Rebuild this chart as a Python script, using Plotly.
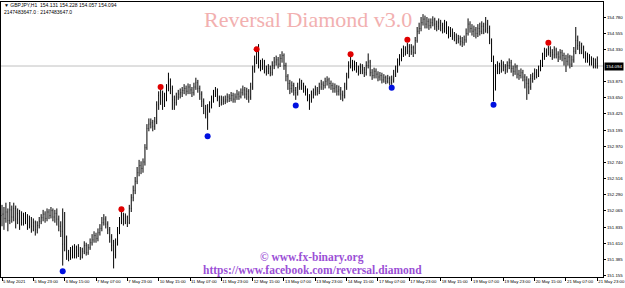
import plotly.graph_objects as go

# ---------------- data (GBPJPY H1) ----------------
time_labels = ["5 May 2021", "5 May 23:00", "6 May 15:00", "7 May 07:00", "7 May 23:00",
               "10 May 15:00", "11 May 07:00", "11 May 23:00", "12 May 15:00", "13 May 07:00",
               "13 May 23:00", "14 May 15:00", "17 May 07:00", "17 May 23:00", "18 May 15:00",
               "19 May 07:00", "19 May 23:00", "20 May 15:00", "21 May 07:00", "21 May 23:00"]
label_bar_index = [0, 16, 32, 48, 64, 80, 96, 112, 128, 144, 160, 176, 192, 208, 224, 240, 256, 272, 288, 304]

price_ticks = [154.780, 154.555, 154.330, 153.875, 153.650, 153.425, 153.195, 152.970,
               152.740, 152.516, 152.290, 152.065, 151.835, 151.610, 151.385, 151.155]
price_tick_text = ["154.780", "154.555", "154.330", "153.875", "153.650", "153.425", "153.195", "152.970",
                   "152.740", "152.516", "152.290", "152.065", "151.835", "151.610", "151.385", "151.155"]
current_price = 154.094

closes = [152.02, 151.96, 152.05, 151.93, 152.08, 151.98, 152.10, 151.95, 152.03, 151.90, 152.00, 151.94, 151.98, 151.88, 151.95, 151.85, 151.90,
          151.80, 151.86, 151.92, 151.97, 152.02, 151.96, 152.05, 152.00, 152.07, 151.98, 152.03,
          151.95, 151.85, 151.78, 151.60, 151.70, 151.45, 151.42,
          151.50, 151.44, 151.55, 151.47, 151.52, 151.42, 151.50, 151.58, 151.48, 151.55,
          151.62, 151.66, 151.72, 151.68, 151.76, 151.82, 151.90, 151.95,
          151.88, 151.80, 151.70, 151.58, 151.45, 151.62,
          151.78, 151.92, 152.00, 151.95, 151.98, 151.90,
          152.10, 152.25, 152.35, 152.48, 152.60, 152.70,
          152.66, 152.75, 152.95, 153.22, 153.28,
          153.30, 153.25, 153.32, 153.55, 153.68, 153.72,
          153.60, 153.65, 153.78, 153.88, 153.78,
          153.62, 153.58, 153.66, 153.70, 153.72, 153.75,
          153.78, 153.74, 153.80, 153.76, 153.72, 153.80, 153.86, 153.78, 153.70,
          153.60, 153.50, 153.42, 153.48,
          153.55, 153.62, 153.70, 153.74, 153.65, 153.58, 153.62, 153.60,
          153.62, 153.66, 153.64, 153.68, 153.63, 153.66, 153.70, 153.67, 153.72, 153.76, 153.70, 153.74, 153.66,
          153.80, 154.05, 154.18, 154.22,
          154.12, 154.08, 154.15, 154.05, 154.02, 154.06, 154.00,
          154.10, 154.15, 154.18, 154.12, 154.20, 154.24, 154.10,
          153.95, 153.85, 153.78, 153.82, 153.75, 153.72,
          153.80, 153.86, 153.82, 153.78, 153.74, 153.66, 153.62, 153.70,
          153.72, 153.76, 153.74, 153.80, 153.84, 153.82, 153.88, 153.90, 153.85,
          153.82, 153.78, 153.80, 153.74, 153.76, 153.70, 153.68, 153.80,
          153.95, 154.10, 154.15,
          154.08, 154.12, 154.05, 154.02, 154.08, 154.04, 154.00, 154.10, 154.15,
          154.00, 153.96, 154.02, 153.98, 153.94, 153.96, 153.90, 153.93, 153.88, 153.92, 153.86, 153.90,
          153.98, 154.05, 154.15, 154.20, 154.28, 154.32, 154.30, 154.36,
          154.30, 154.35, 154.28, 154.45, 154.58, 154.62,
          154.70, 154.75, 154.68, 154.72, 154.66, 154.70, 154.74, 154.68, 154.65, 154.70, 154.66, 154.62, 154.68,
          154.60, 154.55, 154.58, 154.52, 154.50, 154.46, 154.48, 154.44, 154.42, 154.46,
          154.55, 154.68, 154.62, 154.58,
          154.60, 154.55, 154.62, 154.58, 154.65, 154.60, 154.68, 154.62,
          154.45, 154.20, 154.05,
          154.02, 154.10, 154.05, 154.12, 154.08, 154.04, 154.10, 154.14, 154.06, 154.02, 154.08,
          153.98, 153.96, 154.00, 153.94, 153.90, 153.85, 153.80, 153.92,
          153.95, 154.00, 153.98, 154.05, 154.12, 154.22, 154.30, 154.28, 154.34,
          154.28, 154.25, 154.32, 154.26, 154.22, 154.28, 154.24, 154.20, 154.16, 154.22, 154.12, 154.18,
          154.30, 154.45, 154.38, 154.32, 154.35,
          154.25, 154.20, 154.22, 154.15, 154.18, 154.12, 154.131, 154.094]

opens = [152.00, 152.02, 151.96, 152.05, 151.93, 152.08, 151.98, 152.10, 151.95, 152.03, 151.90, 152.00, 151.94, 151.98, 151.88, 151.95, 151.85,
         151.90, 151.80, 151.86, 151.92, 151.97, 152.02, 151.96, 152.05, 152.00, 152.07, 151.98,
         152.03, 151.95, 151.85, 151.78, 151.60, 151.70, 151.45,
         151.42, 151.50, 151.44, 151.55, 151.47, 151.52, 151.42, 151.50, 151.58, 151.48,
         151.55, 151.62, 151.66, 151.72, 151.68, 151.76, 151.82, 151.90,
         151.95, 151.88, 151.80, 151.70, 151.58, 151.45,
         151.62, 151.78, 151.92, 152.00, 151.95, 151.98,
         151.90, 152.10, 152.25, 152.35, 152.48, 152.60,
         152.70, 152.66, 152.75, 152.95, 153.22,
         153.28, 153.30, 153.25, 153.32, 153.55, 153.68,
         153.72, 153.60, 153.65, 153.78, 153.88,
         153.78, 153.62, 153.58, 153.66, 153.70, 153.72,
         153.75, 153.78, 153.74, 153.80, 153.76, 153.72, 153.80, 153.86, 153.78,
         153.70, 153.60, 153.50, 153.42,
         153.48, 153.55, 153.62, 153.70, 153.74, 153.65, 153.58, 153.62,
         153.60, 153.62, 153.66, 153.64, 153.68, 153.63, 153.66, 153.70, 153.67, 153.72, 153.76, 153.70, 153.74,
         153.66, 153.80, 154.05, 154.18,
         154.22, 154.12, 154.08, 154.15, 154.05, 154.02, 154.06,
         154.00, 154.10, 154.15, 154.18, 154.12, 154.20, 154.24,
         154.10, 153.95, 153.85, 153.78, 153.82, 153.75,
         153.72, 153.80, 153.86, 153.82, 153.78, 153.74, 153.66, 153.62,
         153.70, 153.72, 153.76, 153.74, 153.80, 153.84, 153.82, 153.88, 153.90,
         153.85, 153.82, 153.78, 153.80, 153.74, 153.76, 153.70, 153.68,
         153.80, 153.95, 154.10,
         154.15, 154.08, 154.12, 154.05, 154.02, 154.08, 154.04, 154.00, 154.10,
         154.15, 154.00, 153.96, 154.02, 153.98, 153.94, 153.96, 153.90, 153.93, 153.88, 153.92, 153.86,
         153.90, 153.98, 154.05, 154.15, 154.20, 154.28, 154.32, 154.30,
         154.36, 154.30, 154.35, 154.28, 154.45, 154.58,
         154.62, 154.70, 154.75, 154.68, 154.72, 154.66, 154.70, 154.74, 154.68, 154.65, 154.70, 154.66, 154.62,
         154.68, 154.60, 154.55, 154.58, 154.52, 154.50, 154.46, 154.48, 154.44, 154.42,
         154.46, 154.55, 154.68, 154.62,
         154.58, 154.60, 154.55, 154.62, 154.58, 154.65, 154.60, 154.68,
         154.62, 154.45, 154.20,
         154.05, 154.02, 154.10, 154.05, 154.12, 154.08, 154.04, 154.10, 154.14, 154.06, 154.02,
         154.08, 153.98, 153.96, 154.00, 153.94, 153.90, 153.85, 153.80,
         153.92, 153.95, 154.00, 153.98, 154.05, 154.12, 154.22, 154.30, 154.28,
         154.34, 154.28, 154.25, 154.32, 154.26, 154.22, 154.28, 154.24, 154.20, 154.16, 154.22, 154.12,
         154.18, 154.30, 154.45, 154.38, 154.32,
         154.35, 154.25, 154.20, 154.22, 154.15, 154.18, 154.12, 154.131]

highs = [152.15, 152.12, 152.18, 152.10, 152.19, 152.14, 152.18, 152.14, 152.10, 152.08, 152.06, 152.04, 152.05, 152.02, 152.00, 151.98, 151.96,
         151.93, 151.92, 151.98, 152.02, 152.08, 152.06, 152.10, 152.09, 152.12, 152.10, 152.08,
         152.10, 152.00, 151.92, 152.10, 152.05, 151.72, 151.52,
         151.56, 151.58, 151.60, 151.58, 151.60, 151.56, 151.55, 151.64, 151.62, 151.60,
         151.68, 151.74, 151.78, 151.76, 151.82, 151.88, 151.98, 152.02,
         151.99, 151.92, 151.84, 151.74, 151.66, 151.68,
         151.84, 151.98, 152.06, 152.04, 152.03, 152.00,
         152.15, 152.30, 152.42, 152.54, 152.68, 152.78,
         152.76, 152.80, 153.00, 153.28, 153.36,
         153.36, 153.34, 153.38, 153.60, 153.74, 153.77,
         153.75, 153.72, 153.84, 154.00, 153.92,
         153.82, 153.68, 153.72, 153.76, 153.78, 153.80,
         153.84, 153.82, 153.85, 153.84, 153.80, 153.86, 153.93, 153.90, 153.82,
         153.74, 153.64, 153.55, 153.56,
         153.60, 153.68, 153.76, 153.80, 153.78, 153.68, 153.68, 153.67,
         153.68, 153.71, 153.70, 153.73, 153.72, 153.71, 153.76, 153.74, 153.78, 153.82, 153.80, 153.79, 153.77,
         153.86, 154.10, 154.24, 154.30,
         154.40, 154.18, 154.20, 154.18, 154.10, 154.12, 154.10,
         154.16, 154.22, 154.24, 154.22, 154.26, 154.30, 154.27,
         154.14, 153.98, 153.90, 153.88, 153.86, 153.80,
         153.86, 153.92, 153.90, 153.86, 153.82, 153.78, 153.70, 153.75,
         153.78, 153.82, 153.80, 153.86, 153.90, 153.88, 153.93, 153.95, 153.93,
         153.89, 153.86, 153.85, 153.83, 153.82, 153.80, 153.75, 153.86,
         154.00, 154.16, 154.22,
         154.18, 154.17, 154.15, 154.10, 154.13, 154.12, 154.08, 154.16, 154.27,
         154.18, 154.05, 154.07, 154.06, 154.02, 154.01, 154.00, 153.98, 153.96, 153.97, 153.95, 153.96,
         154.04, 154.10, 154.20, 154.26, 154.34, 154.38, 154.37, 154.42,
         154.40, 154.40, 154.38, 154.50, 154.64, 154.70,
         154.78, 154.82, 154.80, 154.78, 154.76, 154.76, 154.79, 154.77, 154.73, 154.76, 154.74, 154.70, 154.74,
         154.72, 154.65, 154.64, 154.62, 154.57, 154.55, 154.53, 154.52, 154.50, 154.52,
         154.62, 154.76, 154.72, 154.68,
         154.66, 154.64, 154.68, 154.70, 154.72, 154.70, 154.78, 154.74,
         154.66, 154.48, 154.24,
         154.12, 154.16, 154.14, 154.18, 154.16, 154.12, 154.16, 154.20, 154.18, 154.10, 154.13,
         154.11, 154.04, 154.06, 154.04, 153.98, 153.95, 153.92, 153.98,
         154.00, 154.06, 154.05, 154.10, 154.18, 154.28, 154.35, 154.34, 154.38,
         154.37, 154.33, 154.37, 154.35, 154.30, 154.33, 154.32, 154.28, 154.25, 154.27, 154.25, 154.24,
         154.36, 154.64, 154.52, 154.44, 154.42,
         154.38, 154.30, 154.28, 154.26, 154.23, 154.21, 154.20, 154.228]

lows = [151.85, 151.80, 151.90, 151.78, 151.88, 151.90, 151.92, 151.82, 151.88, 151.80, 151.86, 151.86, 151.88, 151.80, 151.82, 151.76, 151.78,
        151.72, 151.75, 151.82, 151.88, 151.92, 151.90, 151.92, 151.95, 151.96, 151.92, 151.90,
        151.86, 151.78, 151.70, 151.30, 151.50, 151.38, 151.36,
        151.38, 151.40, 151.40, 151.40, 151.42, 151.38, 151.40, 151.46, 151.44, 151.45,
        151.52, 151.58, 151.62, 151.62, 151.64, 151.72, 151.78, 151.86,
        151.82, 151.74, 151.62, 151.50, 151.26, 151.40,
        151.58, 151.74, 151.88, 151.86, 151.88, 151.84,
        151.88, 152.05, 152.20, 152.30, 152.44, 152.55,
        152.58, 152.60, 152.70, 152.92, 153.18,
        153.22, 153.18, 153.20, 153.28, 153.48, 153.55,
        153.48, 153.52, 153.60, 153.74, 153.70,
        153.48, 153.48, 153.54, 153.62, 153.64, 153.66,
        153.70, 153.68, 153.70, 153.70, 153.66, 153.68, 153.76, 153.72, 153.62,
        153.52, 153.42, 153.36, 153.20,
        153.44, 153.50, 153.58, 153.66, 153.60, 153.52, 153.54, 153.55,
        153.56, 153.58, 153.59, 153.60, 153.58, 153.58, 153.62, 153.62, 153.64, 153.68, 153.64, 153.62, 153.58,
        153.62, 153.76, 154.00, 154.12,
        154.06, 154.02, 154.04, 153.99, 153.96, 153.98, 153.95,
        153.96, 154.05, 154.10, 154.06, 154.08, 154.14, 154.04,
        153.88, 153.76, 153.70, 153.72, 153.68, 153.62,
        153.68, 153.76, 153.76, 153.72, 153.68, 153.60, 153.48, 153.58,
        153.64, 153.68, 153.68, 153.70, 153.76, 153.76, 153.78, 153.82, 153.78,
        153.76, 153.72, 153.72, 153.68, 153.68, 153.62, 153.60, 153.64,
        153.76, 153.92, 154.06,
        154.02, 154.03, 154.00, 153.96, 153.98, 153.98, 153.94, 153.96, 154.06,
        153.95, 153.90, 153.92, 153.92, 153.88, 153.89, 153.85, 153.86, 153.84, 153.85, 153.82, 153.83,
        153.86, 153.94, 154.00, 154.10, 154.16, 154.22, 154.24, 154.26,
        154.22, 154.25, 154.22, 154.26, 154.42, 154.54,
        154.58, 154.66, 154.62, 154.62, 154.60, 154.62, 154.65, 154.60, 154.58, 154.60, 154.58, 154.55, 154.56,
        154.54, 154.48, 154.50, 154.46, 154.44, 154.40, 154.41, 154.38, 154.36, 154.38,
        154.42, 154.52, 154.56, 154.52,
        154.50, 154.48, 154.50, 154.52, 154.54, 154.54, 154.56, 154.55,
        154.40, 154.15, 153.60,
        153.75, 153.98, 153.98, 154.00, 154.02, 153.98, 154.00, 154.05, 154.00, 153.95, 153.97,
        153.92, 153.90, 153.92, 153.88, 153.78, 153.62, 153.70, 153.76,
        153.86, 153.90, 153.92, 153.94, 154.02, 154.08, 154.18, 154.22, 154.24,
        154.22, 154.18, 154.20, 154.20, 154.15, 154.18, 154.16, 154.10, 154.01, 154.10, 154.06, 154.08,
        154.14, 154.26, 154.32, 154.26, 154.26,
        154.20, 154.14, 154.14, 154.10, 154.10, 154.06, 154.06, 154.057]

# Reversal Diamond signals (bar index, price of the dot)
red_idx = [61, 81, 130, 178, 207, 279]
red_price = [152.09, 153.80, 154.33, 154.26, 154.46, 154.42]
blue_idx = [31, 105, 150, 199, 251]
blue_price = [151.22, 153.11, 153.54, 153.79, 153.55]

bar_idx = list(range(len(closes)))

# ---------------- figure ----------------
fig = go.Figure()

fig.add_trace(go.Ohlc(
    x=bar_idx, open=opens, high=highs, low=lows, close=closes,
    increasing=dict(line=dict(color="#000000", width=1)),
    decreasing=dict(line=dict(color="#000000", width=1)),
    tickwidth=0.15, showlegend=False, hoverinfo="skip"))

fig.add_trace(go.Scatter(x=red_idx, y=red_price, mode="markers",
                         marker=dict(color="#e00000", size=6), showlegend=False, hoverinfo="skip"))
fig.add_trace(go.Scatter(x=blue_idx, y=blue_price, mode="markers",
                         marker=dict(color="#0010e0", size=6), showlegend=False, hoverinfo="skip"))

# current price line
fig.add_shape(type="line", xref="paper", x0=0, x1=1, yref="y", y0=current_price, y1=current_price,
              line=dict(color="#c0c0c0", width=1), layer="below")

small = dict(family="Liberation Sans, Arial, sans-serif", size=5.0, color="black")
xfont = dict(family="Liberation Sans, Arial, sans-serif", size=4.3, color="black")
yfont = dict(family="Liberation Sans, Arial, sans-serif", size=4.4, color="black")

fig.update_layout(
    width=625, height=288,
    margin=dict(l=1, r=22, t=2, b=11),
    paper_bgcolor="white", plot_bgcolor="white",
    showlegend=False,
    font=small,
    xaxis=dict(range=[-0.51, 306.9], showgrid=False, zeroline=False, automargin=False,
               rangeslider=dict(visible=False),
               tickmode="array", tickvals=label_bar_index, ticktext=time_labels,
               tickangle=0,
               ticks="outside", ticklen=3, tickcolor="black", tickfont=xfont,
               ticklabelposition="outside right",
               showline=True, linecolor="black", linewidth=1, mirror=True),
    yaxis=dict(range=[151.14, 154.99], side="right", showgrid=False, zeroline=False, automargin=False,
               tickmode="array", tickvals=price_ticks, ticktext=price_tick_text,
               ticks="outside", ticklen=2, tickcolor="black", tickfont=yfont,
               showline=True, linecolor="black", linewidth=1, mirror=True),
)

annotations = [
    dict(text="▼ GBPJPY,H1  154.131 154.228 154.057 154.094", xref="paper", yref="paper",
         x=0.002, y=0.99, xanchor="left", yanchor="middle", showarrow=False, font=small),
    dict(text="2147483647.0 : 2147483647.0", xref="paper", yref="paper",
         x=0.002, y=0.962, xanchor="left", yanchor="middle", showarrow=False, font=small),
    dict(text="Reversal Diamond v3.0", xref="paper", yref="paper",
         x=0.51, y=0.935, xanchor="center", yanchor="middle", showarrow=False,
         font=dict(family="Liberation Serif, Times New Roman, serif", size=22, color="#f2b0b0")),
    dict(text="<b>© www.fx-binary.org</b>", xref="paper", yref="paper",
         x=0.517, y=0.071, xanchor="center", yanchor="middle", showarrow=False,
         font=dict(family="Liberation Serif, Times New Roman, serif", size=11.5, color="#9b4fd6")),
    dict(text="<b>https://www.facebook.com/reversal.diamond</b>", xref="paper", yref="paper",
         x=0.518, y=0.022, xanchor="center", yanchor="middle", showarrow=False,
         font=dict(family="Liberation Serif, Times New Roman, serif", size=11.5, color="#9b4fd6")),
    dict(text="154.094", xref="paper", yref="y", x=1.0, y=current_price,
         xanchor="left", yanchor="middle", showarrow=False, xshift=1,
         bgcolor="black", borderpad=1,
         font=dict(family="Liberation Sans, Arial, sans-serif", size=4.4, color="white")),
]
fig.update_layout(annotations=annotations)

fig.write_html("out.html")
